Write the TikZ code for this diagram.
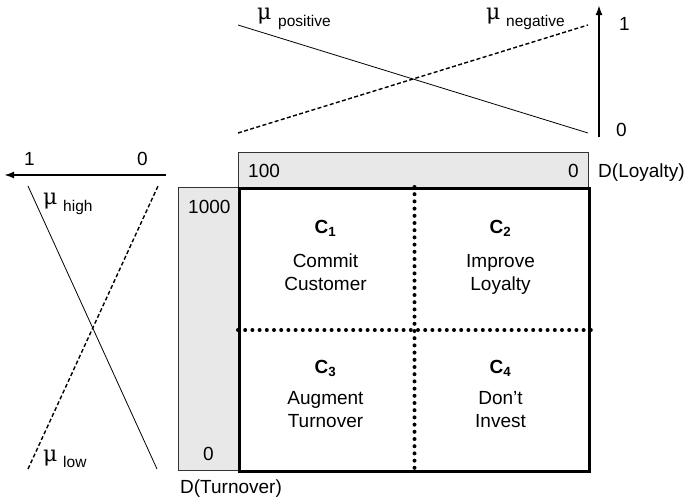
\documentclass[tikz,border=0pt]{standalone}
\usepackage{fontspec}
\setmainfont{Liberation Sans}
\newfontfamily\mufont{DejaVu Serif}
\usetikzlibrary{arrows.meta}
\begin{document}
\begin{tikzpicture}[x=1pt,y=-1pt,
  lbl/.style={font=\fontsize{19}{22}\selectfont, inner sep=0pt, anchor=base west},
  cell/.style={font=\fontsize{19}{22}\selectfont, inner sep=0pt, anchor=base},
  ctitle/.style={font=\fontsize{19}{22}\selectfont\bfseries, inner sep=0pt, anchor=base},
  mulbl/.style={font=\fontsize{22}{24}\selectfont\mufont, inner sep=0pt, anchor=base west},
  sublbl/.style={font=\fontsize{15.5}{17}\selectfont, inner sep=0pt, anchor=base west},
  graybox/.style={draw=black!80, line width=0.6pt, fill=black!9, inner sep=0pt, anchor=north west},
  gridbox/.style={draw=black, line width=3pt, inner sep=0pt, anchor=north west},
  dotline/.style={line width=4pt, line cap=round, dash pattern=on 0pt off 7.2pt},
  dashline/.style={line width=1.4pt, dash pattern=on 4pt off 2.4pt},
  solidline/.style={line width=0.8pt},
  axis/.style={line width=2pt, -{Latex[length=10pt,width=7pt]}}]
\useasboundingbox (0,0) rectangle (686,501);

% value ranges of the two criteria
\node[graybox, minimum width=350pt, minimum height=35pt] (hdr) at (238,152) {};
\node[graybox, minimum width=60pt, minimum height=283pt] (side) at (178,187) {};

% portfolio grid
\node[gridbox, minimum width=350pt, minimum height=283pt] (grid) at (238,187) {};
\draw[dotline] (grid.north) -- (grid.south);
\draw[dotline] (grid.west) -- (grid.east);

% axis labels
\node[lbl] (l100) at (248,177) {100};
\node[lbl] (l0a) at (568,177) {0};
\node[lbl] (dloy) at (598,177) {D(Loyalty)};
\node[lbl] (l1000) at (188,213) {1000};
\node[lbl] (l0b) at (203,460) {0};
\node[lbl] (dturn) at (180,493) {D(Turnover)};

% quadrants
\node[ctitle] (c1) at (325.5,233) {C\textsubscript{1}};
\node[cell] (c1a) at (325.5,267) {Commit};
\node[cell] (c1b) at (325.5,290) {Customer};
\node[ctitle] (c2) at (500.5,233) {C\textsubscript{2}};
\node[cell] (c2a) at (500.5,267) {Improve};
\node[cell] (c2b) at (500.5,290) {Loyalty};
\node[ctitle] (c3) at (325.5,373) {C\textsubscript{3}};
\node[cell] (c3a) at (325.5,404) {Augment};
\node[cell] (c3b) at (325.5,427) {Turnover};
\node[ctitle] (c4) at (500.5,373) {C\textsubscript{4}};
\node[cell] (c4a) at (500.5,404) {Don’t};
\node[cell] (c4b) at (500.5,427) {Invest};

% membership functions of loyalty
\coordinate (ptop) at (238,25);
\coordinate (pbot) at (588,133);
\coordinate (ntop) at (588,25);
\coordinate (nbot) at (238,133);
\draw[solidline] (ptop) -- (pbot);
\draw[dashline] (nbot) -- (ntop);
\coordinate (ya0) at (599,137);
\coordinate (ya1) at (599,5);
\draw[axis] (ya0) -- (ya1);
\node[lbl] (y1) at (619,30) {1};
\node[lbl] (y0) at (616,136) {0};
\node[mulbl] (mup) at (257,19) {μ};
\node[sublbl] (mups) at (278,26) {positive};
\node[mulbl] (mun) at (486,19) {μ};
\node[sublbl] (muns) at (506,26) {negative};

% membership functions of turnover
\coordinate (htop) at (28,186);
\coordinate (hbot) at (157,469);
\coordinate (ltop) at (158,186);
\coordinate (lbot) at (28,469);
\draw[solidline] (htop) -- (hbot);
\draw[dashline] (lbot) -- (ltop);
\coordinate (xa0) at (166,175);
\coordinate (xa1) at (4,175);
\draw[axis] (xa0) -- (xa1);
\node[lbl] (x1) at (24,165) {1};
\node[lbl] (x0) at (137,165) {0};
\node[mulbl] (muh) at (43,204) {μ};
\node[sublbl] (muhs) at (63,211) {high};
\node[mulbl] (mul) at (43,461) {μ};
\node[sublbl] (muls) at (63,467) {low};
\end{tikzpicture}
\end{document}
